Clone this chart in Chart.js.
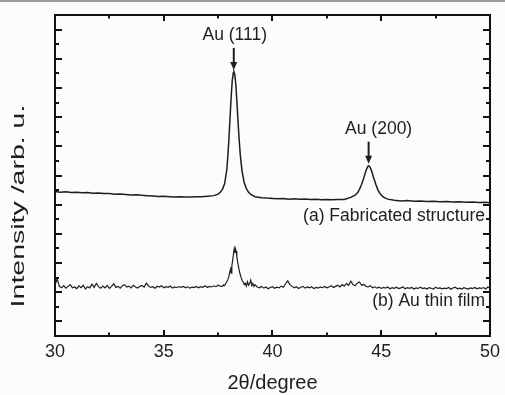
<!DOCTYPE html>
<html>
<head>
<meta charset="utf-8">
<script src="https://cdn.jsdelivr.net/npm/chart.js@4.4.0/dist/chart.umd.min.js"></script>
<style>
  html, body { margin: 0; padding: 0; background: #fcfcfa; }
  #wrap { width: 505px; height: 395px; position: relative; }
</style>
</head>
<body>
<div id="wrap"><canvas id="xrdChart"></canvas></div>
<script>
// 2theta (degree), intensity (arb. u.)
const structureScan = [
  [30.0,9.90],[30.25,9.86],[30.5,9.88],[30.75,9.84],[31.0,9.85],[31.25,9.82],[31.5,9.83],[31.75,9.79],
  [32.0,9.80],[32.25,9.76],[32.5,9.77],[32.75,9.72],[33.0,9.74],[33.25,9.70],[33.5,9.66],[33.75,9.68],
  [34.0,9.64],[34.25,9.62],[34.5,9.60],[34.75,9.56],[35.0,9.58],[35.25,9.55],[35.5,9.52],[35.75,9.55],
  [36.0,9.53],[36.25,9.52],[36.5,9.55],[36.75,9.54],[37.0,9.58],[37.3,9.62],[37.5,9.72],[37.6,9.85],
  [37.7,10.05],[37.8,10.45],[37.9,11.4],[37.95,12.4],[38.0,13.6],[38.05,15.0],[38.1,16.4],[38.15,17.5],
  [38.2,18.05],[38.23,18.1],[38.27,17.9],[38.32,17.1],[38.37,15.9],[38.42,14.6],[38.47,13.4],[38.52,12.4],
  [38.6,11.3],[38.7,10.5],[38.8,10.1],[38.9,9.85],[39.0,9.7],[39.2,9.55],[39.5,9.48],[39.75,9.45],
  [40.0,9.43],[40.25,9.40],[40.5,9.42],[40.75,9.38],[41.0,9.40],[41.25,9.37],[41.5,9.39],[41.75,9.35],
  [42.0,9.37],[42.25,9.34],[42.5,9.36],[42.75,9.33],[43.0,9.35],[43.3,9.35],[43.6,9.5],[43.8,9.65],
  [43.9,9.8],[44.0,10.05],[44.1,10.4],[44.2,10.85],[44.3,11.35],[44.38,11.62],[44.42,11.67],[44.48,11.58],
  [44.56,11.3],[44.65,10.85],[44.75,10.4],[44.85,10.0],[44.95,9.75],[45.1,9.52],[45.3,9.38],[45.6,9.30],
  [45.9,9.26],[46.2,9.28],[46.5,9.24],[46.8,9.25],[47.1,9.22],[47.4,9.24],[47.7,9.20],[48.0,9.22],
  [48.3,9.19],[48.6,9.20],[48.9,9.17],[49.2,9.18],[49.5,9.15],[49.8,9.16],[50.0,9.14]
];

const filmScan = [
  [30.0,3.50],[30.1,3.92],[30.2,3.40],[30.3,3.30],[30.4,3.45],[30.5,3.28],[30.6,3.40],[30.7,3.52],
  [30.8,3.30],[30.9,3.36],[31.0,3.25],[31.1,3.44],[31.2,3.32],[31.3,3.48],[31.4,3.22],[31.5,3.38],
  [31.6,3.30],[31.7,3.55],[31.8,3.34],[31.9,3.60],[32.0,3.38],[32.1,3.28],[32.2,3.42],[32.3,3.30],
  [32.4,3.46],[32.5,3.26],[32.6,3.40],[32.7,3.58],[32.8,3.33],[32.9,3.40],[33.0,3.28],[33.1,3.45],
  [33.2,3.52],[33.3,3.35],[33.4,3.42],[33.5,3.30],[33.6,3.48],[33.7,3.36],[33.8,3.29],[33.9,3.40],
  [34.0,3.46],[34.1,3.35],[34.2,3.62],[34.3,3.42],[34.4,3.33],[34.5,3.38],[34.6,3.27],[34.7,3.41],
  [34.8,3.36],[34.9,3.44],[35.0,3.30],[35.1,3.38],[35.2,3.34],[35.3,3.42],[35.4,3.28],[35.5,3.36],
  [35.6,3.31],[35.7,3.39],[35.8,3.33],[35.9,3.40],[36.0,3.30],[36.1,3.37],[36.2,3.28],[36.3,3.35],
  [36.4,3.32],[36.5,3.40],[36.6,3.30],[36.7,3.38],[36.8,3.34],[36.9,3.45],[37.0,3.32],[37.1,3.40],
  [37.2,3.36],[37.3,3.44],[37.4,3.38],[37.5,3.48],[37.6,3.42],
  [37.7,3.40],[37.75,3.50],[37.8,3.45],[37.85,3.60],[37.9,3.72],[37.95,3.88],[38.0,4.10],[38.05,4.50],
  [38.08,4.72],[38.1,4.30],[38.13,4.80],[38.16,5.10],[38.2,5.55],[38.24,5.98],[38.27,5.70],[38.3,5.98],
  [38.33,5.80],[38.36,5.45],[38.4,5.05],[38.45,4.65],[38.5,4.30],[38.55,4.05],[38.6,3.82],[38.65,3.70],
  [38.7,3.52],[38.75,3.62],[38.8,3.42],[38.85,3.72],[38.9,3.48],[38.95,3.58],[39.0,3.82],[39.05,3.45],
  [39.1,3.60],[39.15,3.40],[39.2,3.52],[39.3,3.36],
  [39.4,3.30],[39.5,3.40],[39.6,3.28],[39.7,3.36],[39.8,3.24],[39.9,3.32],[40.0,3.38],[40.1,3.27],
  [40.2,3.35],[40.3,3.30],[40.4,3.42],[40.5,3.34],[40.6,3.58],[40.7,3.78],[40.8,3.52],[40.9,3.40],
  [41.0,3.30],[41.1,3.38],[41.2,3.26],[41.3,3.34],[41.4,3.40],[41.5,3.28],[41.6,3.36],[41.7,3.30],
  [41.8,3.38],[41.9,3.25],[42.0,3.33],[42.1,3.29],[42.2,3.37],[42.3,3.31],[42.4,3.40],[42.5,3.30],
  [42.6,3.36],[42.7,3.44],[42.8,3.32],[42.9,3.40],[43.0,3.48],[43.1,3.36],[43.2,3.52],[43.3,3.42],
  [43.4,3.60],[43.5,3.48],[43.6,3.75],[43.7,3.52],[43.8,3.44],[43.9,3.62],[44.0,3.70],[44.1,3.46],
  [44.2,3.55],[44.3,3.40],[44.4,3.36],[44.5,3.44],[44.6,3.30],[44.7,3.37],[44.8,3.28],[44.9,3.34],
  [45.0,3.26],[45.1,3.33],[45.2,3.29],[45.3,3.36],[45.4,3.24],[45.5,3.31],[45.6,3.27],[45.7,3.34],
  [45.8,3.25],[45.9,3.30],[46.0,3.36],[46.1,3.24],[46.2,3.31],[46.3,3.27],[46.4,3.33],[46.5,3.22],
  [46.6,3.30],[46.7,3.26],[46.8,3.35],[46.9,3.25],[47.0,3.29],[47.1,3.22],[47.2,3.32],[47.3,3.27],
  [47.4,3.21],[47.5,3.34],[47.6,3.26],[47.7,3.30],[47.8,3.23],[47.9,3.28],[48.0,3.25],[48.1,3.32],
  [48.2,3.20],[48.3,3.29],[48.4,3.34],[48.5,3.24],[48.6,3.28],[48.7,3.22],[48.8,3.31],[48.9,3.26],
  [49.0,3.22],[49.1,3.30],[49.2,3.25],[49.3,3.33],[49.4,3.23],[49.5,3.29],[49.6,3.26],[49.7,3.32],
  [49.8,3.22],[49.9,3.36],[50.0,3.28]
];

const xMajorTicks = [30, 35, 40, 45, 50];
const xMinorTicks = [32.5, 37.5, 42.5, 47.5];
const yTicks = [1,2,3,4,5,6,7,8,9,10,11,12,13,14,15,16,17,18,19,20,21];

const peakNames = ["Au (111)", "Au (200)"];
const peakAngles = [38.22, 44.42];
const peakHeights = [18.1, 11.67];
const seriesNames = ["(a) Fabricated structure", "(b) Au thin film"];

const FONT = "'Liberation Sans', Arial, sans-serif";
const INK = "#1e1e1e";

const toPoints = (arr) => arr.map((p) => ({ x: p[0], y: p[1] }));

const background = {
  id: "background",
  beforeDraw(chart) {
    const ctx = chart.ctx;
    ctx.save();
    ctx.fillStyle = "#fcfcfa";
    ctx.fillRect(0, 0, chart.width, chart.height);
    ctx.fillStyle = "#9c9c9c";
    ctx.fillRect(0, 0, chart.width, 2);
    ctx.restore();
  }
};

const frameAndText = {
  id: "frameAndText",
  afterDraw(chart) {
    const ctx = chart.ctx;
    const a = chart.chartArea;
    const xs = chart.scales.x;
    const ys = chart.scales.y;
    ctx.save();
    ctx.strokeStyle = "#111";
    ctx.lineWidth = 2;
    ctx.strokeRect(a.left, a.top, a.right - a.left, a.bottom - a.top);

    // inward ticks on all four sides
    ctx.beginPath();
    xMajorTicks.concat(xMinorTicks).forEach((v) => {
      const len = xMajorTicks.includes(v) ? 6 : 3.5;
      const px = Math.round(xs.getPixelForValue(v));
      ctx.moveTo(px, a.bottom); ctx.lineTo(px, a.bottom - len);
      ctx.moveTo(px, a.top); ctx.lineTo(px, a.top + len);
    });
    yTicks.forEach((v) => {
      const len = v % 2 === 1 ? 7 : 4;
      const py = Math.round(ys.getPixelForValue(v));
      ctx.moveTo(a.left, py); ctx.lineTo(a.left + len, py);
      ctx.moveTo(a.right, py); ctx.lineTo(a.right - len, py);
    });
    ctx.stroke();

    ctx.fillStyle = INK;
    ctx.strokeStyle = INK;
    ctx.font = "17.5px " + FONT;
    ctx.textBaseline = "alphabetic";

    // peak labels with arrows
    const labelShift = [1, 10];
    peakAngles.forEach((ang, i) => {
      const px = xs.getPixelForValue(ang);
      const tip = ys.getPixelForValue(peakHeights[i]) - 2;
      ctx.lineWidth = 2;
      ctx.beginPath();
      ctx.moveTo(px, tip - 22);
      ctx.lineTo(px, tip - 6);
      ctx.stroke();
      ctx.beginPath();
      ctx.moveTo(px - 3.5, tip - 8);
      ctx.lineTo(px + 3.5, tip - 8);
      ctx.lineTo(px, tip);
      ctx.closePath();
      ctx.fill();
      ctx.textAlign = "center";
      ctx.fillText(peakNames[i], px + labelShift[i], tip - 30);
    });

    // series labels
    ctx.textAlign = "right";
    ctx.fillText(seriesNames[0], a.right - 5, ys.getPixelForValue(7.9));
    ctx.fillText(seriesNames[1], a.right - 5, ys.getPixelForValue(2.05));

    // axis titles
    ctx.textAlign = "center";
    ctx.textBaseline = "middle";
    ctx.font = "20px " + FONT;
    ctx.fillText("2\u03b8/degree", (a.left + a.right) / 2, 383);

    ctx.translate(19, 206);
    ctx.rotate(-Math.PI / 2);
    ctx.scale(1.5, 1);
    ctx.font = "19px " + FONT;
    ctx.fillText("Intensity /arb. u.", 0, 0);
    ctx.restore();
  }
};

new Chart(document.getElementById("xrdChart"), {
  type: "line",
  data: {
    datasets: [
      {
        label: seriesNames[0],
        data: toPoints(structureScan),
        borderColor: INK,
        borderWidth: 1.5,
        pointRadius: 0,
        tension: 0,
      },
      {
        label: seriesNames[1],
        data: toPoints(filmScan),
        borderColor: INK,
        borderWidth: 1.2,
        pointRadius: 0,
        tension: 0,
      },
    ],
  },
  options: {
    responsive: true,
    maintainAspectRatio: false,
    animation: false,
    devicePixelRatio: 1,
    layout: { padding: { top: 15, right: 12, left: 0, bottom: 0 } },
    plugins: { legend: { display: false }, tooltip: { enabled: false } },
    scales: {
      x: {
        type: "linear",
        min: 30,
        max: 50,
        afterFit: (s) => { s.height = 59; },
        grid: { display: false, drawTicks: false },
        border: { display: false },
        ticks: {
          stepSize: 5,
          padding: 5,
          color: INK,
          font: { size: 18, family: FONT },
        },
      },
      y: {
        min: 0,
        max: 22,
        afterFit: (s) => { s.width = 55; },
        grid: { display: false, drawTicks: false },
        border: { display: false },
        ticks: { display: false },
      },
    },
  },
  plugins: [background, frameAndText],
});
</script>
</body>
</html>
